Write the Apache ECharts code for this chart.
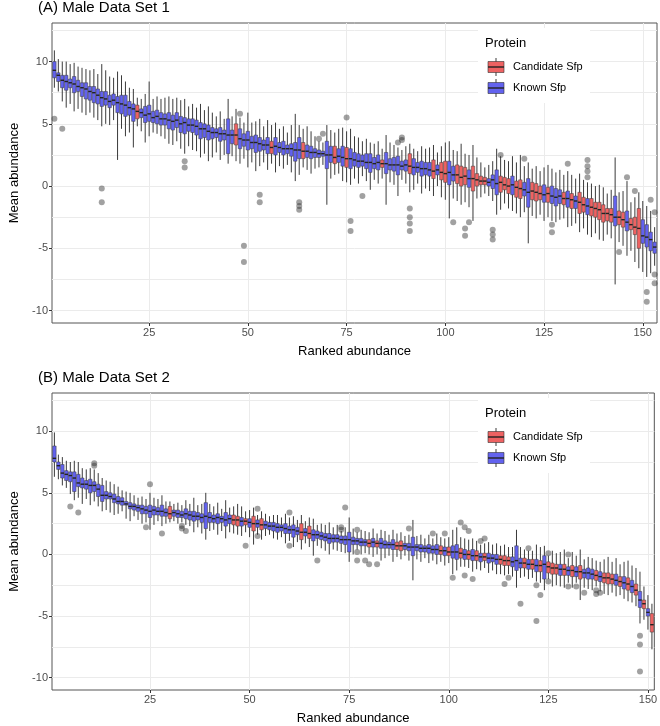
<!DOCTYPE html>
<html>
<head>
<meta charset="utf-8">
<script src="https://cdn.jsdelivr.net/npm/echarts@6/dist/echarts.min.js"></script>
<style>
  html, body { margin: 0; padding: 0; background: #fff; }
  #chart { width: 660px; height: 726px; }
</style>
</head>
<body>
<div id="chart"></div>
<script>
// box stats per rank: [lower whisker, Q1, median, Q3, upper whisker]
var boxesA = [
  [7.9,8.7,9.3,10.0,10.9],[7.6,8.4,8.9,9.1,10.2],[6.8,7.9,8.5,8.9,10.0],[6.3,7.7,8.4,8.9,10.0],[6.6,7.9,8.3,8.6,9.8],
  [6.0,7.5,8.2,8.8,9.9],[6.2,7.6,8.0,8.5,9.6],[5.9,7.2,7.9,8.3,9.5],[5.7,7.0,7.8,8.3,9.4],[5.9,6.9,7.6,8.0,9.3],
  [5.5,6.7,7.5,8.0,9.4],[5.3,6.6,7.3,7.8,9.0],[4.8,6.4,7.1,7.6,9.8],[5.0,6.5,7.0,7.6,9.3],[4.9,6.3,6.8,7.3,8.8],
  [5.3,6.5,6.9,7.4,8.7],[2.1,5.9,6.7,7.2,9.2],[4.6,5.8,6.6,7.3,8.9],[4.0,5.6,6.5,7.3,8.4],[4.3,5.7,6.3,6.8,7.9],
  [3.1,5.2,6.2,6.6,7.8],[4.8,5.4,6.0,6.5,7.1],[4.4,5.5,5.9,6.2,7.0],[3.5,5.1,5.7,6.4,7.4],[4.0,5.2,5.8,6.5,8.4],
  [4.3,5.1,5.5,6.0,7.0],[4.2,5.0,5.6,6.1,7.2],[4.0,4.9,5.4,5.9,7.0],[3.8,4.9,5.4,5.8,7.1],[3.4,4.6,5.3,5.9,7.2],
  [3.3,4.5,5.2,5.7,7.0],[3.6,4.7,5.3,5.9,7.1],[3.0,4.3,5.0,5.6,6.9],[2.6,4.2,5.1,5.5,7.0],[3.2,4.4,4.9,5.4,6.4],
  [2.9,4.3,4.9,5.4,6.6],[2.8,4.1,4.8,5.3,6.3],[2.3,3.8,4.6,5.1,6.6],[2.6,3.9,4.6,5.0,6.1],[2.0,3.7,4.4,4.9,6.4],
  [2.3,3.8,4.3,4.7,5.9],[2.7,3.9,4.3,4.6,5.6],[2.1,3.6,4.2,4.7,6.0],[2.5,3.7,4.2,4.5,5.4],[1.8,2.6,4.1,5.4,7.0],
  [2.4,3.4,4.1,4.5,5.6],[2.0,3.3,4.1,5.0,6.2],[1.8,3.0,3.8,4.6,5.5],[2.2,3.2,3.7,4.2,5.1],[1.5,2.9,3.7,4.4,5.9],
  [1.9,3.0,3.5,4.0,5.1],[1.2,2.7,3.5,4.1,5.2],[1.6,2.8,3.4,3.9,5.4],[1.9,2.9,3.3,3.7,4.8],[1.3,2.6,3.3,3.9,5.3],
  [1.8,2.6,3.1,3.6,4.9],[1.1,2.5,3.2,3.9,5.1],[1.6,2.7,3.1,3.5,4.6],[1.4,2.5,3.0,3.6,4.8],[1.7,2.6,3.0,3.3,4.3],
  [1.1,2.4,3.0,3.4,4.9],[0.4,2.0,2.9,3.5,5.8],[0.9,2.2,2.9,3.9,4.9],[1.5,2.2,2.8,3.5,4.6],[1.3,2.3,2.8,3.3,4.8],
  [1.0,2.2,2.7,3.2,4.4],[1.4,2.3,2.7,3.0,4.0],[1.5,2.3,2.6,2.9,3.6],[1.7,2.4,2.6,2.8,3.5],[-1.5,1.4,2.5,3.6,4.9],
  [0.6,1.9,2.5,3.2,4.5],[0.9,1.8,2.3,3.2,4.3],[1.0,1.9,2.4,3.0,4.6],[0.4,1.6,2.3,3.2,4.7],[0.3,1.5,2.2,3.1,4.4],
  [0.1,1.4,2.2,3.0,4.6],[0.6,1.6,2.1,2.7,4.0],[0.2,1.5,2.0,2.6,3.9],[0.8,1.6,2.0,2.5,3.6],[0.4,1.4,1.9,2.6,3.8],
  [-0.3,1.1,1.9,2.6,3.5],[0.5,1.4,1.8,2.3,3.4],[0.2,1.3,1.9,2.5,3.6],[0.6,1.5,1.8,2.1,3.0],[-1.5,1.0,1.8,2.7,4.1],
  [0.3,1.3,1.7,2.2,3.5],[0.1,1.2,1.7,2.3,3.3],[-0.8,0.9,1.7,2.4,3.1],[0.5,1.3,1.6,2.0,2.9],[0.2,1.2,1.7,2.1,3.2],
  [-0.5,1.0,1.6,2.6,3.4],[-0.3,0.9,1.5,2.2,3.0],[0.2,1.1,1.5,1.9,2.8],[-0.6,0.8,1.4,2.0,3.2],[-0.2,0.9,1.4,1.9,3.0],
  [-0.4,0.8,1.3,1.9,3.1],[-0.8,0.6,1.2,2.1,3.3],[0.0,0.9,1.3,1.7,2.7],[-0.9,0.5,1.1,1.9,3.2],[-1.1,0.3,1.0,2.0,3.5],
  [-2.6,0.1,1.1,2.0,3.6],[-1.0,0.4,0.9,1.6,2.9],[-1.2,0.2,0.9,1.7,2.8],[-1.5,0.0,0.7,1.6,3.4],[-1.3,0.1,0.8,1.5,2.6],
  [-1.7,-0.1,0.6,1.3,2.5],[-2.8,-0.4,0.6,1.6,3.3],[-1.0,0.0,0.5,1.0,2.3],[-0.9,0.1,0.4,0.8,1.9],[-0.6,0.1,0.4,0.7,1.5],
  [-0.8,0.0,0.3,0.6,1.7],[-1.2,-0.2,0.5,0.9,2.0],[-2.3,-0.7,0.2,1.3,3.0],[-1.9,-0.5,0.3,0.8,2.4],[-1.4,-0.3,0.1,0.7,2.1],
  [-1.8,-0.6,0.0,0.6,2.0],[-2.0,-0.7,0.1,0.8,2.4],[-2.2,-0.9,-0.1,0.4,1.9],[-2.5,-1.0,-0.2,0.5,2.5],[-2.1,-0.8,-0.3,0.3,1.6],
  [-4.6,-1.7,-0.5,0.6,1.9],[-2.4,-1.1,-0.4,0.3,1.4],[-2.6,-1.2,-0.5,0.2,1.6],[-2.3,-1.1,-0.6,0.0,1.2],[-2.8,-1.3,-0.7,0.1,1.5],
  [-2.5,-1.3,-0.6,-0.1,1.7],[-2.8,-1.4,-0.8,0.0,1.4],[-2.9,-1.6,-0.9,-0.2,1.1],[-2.7,-1.4,-0.8,-0.3,1.3],[-2.6,-1.5,-1.0,-0.5,0.9],
  [-3.3,-1.7,-1.0,-0.4,1.2],[-3.2,-1.8,-1.1,-0.6,0.9],[-3.0,-1.8,-1.2,-0.8,0.6],[-3.7,-2.2,-1.3,-0.5,1.0],[-3.4,-2.1,-1.5,-0.9,0.5],
  [-3.9,-2.3,-1.6,-1.0,0.3],[-4.1,-2.4,-1.7,-1.0,0.2],[-3.8,-2.5,-1.8,-1.3,0.0],[-4.3,-2.7,-1.9,-1.3,0.1],[-4.4,-2.9,-2.2,-1.5,-0.1],
  [-3.9,-2.8,-2.2,-1.8,-0.6],[-4.2,-2.9,-2.3,-1.8,-0.3],[-7.9,-3.2,-2.5,-0.8,2.3],[-4.5,-3.1,-2.5,-2.0,-0.5],[-4.8,-3.3,-2.7,-2.1,-0.4],
  [-5.6,-3.6,-2.9,-2.0,0.4],[-5.2,-3.5,-3.1,-2.6,-1.3],[-6.1,-3.9,-3.3,-2.5,-0.9],[-6.6,-5.0,-3.4,-1.8,-0.5],[-6.9,-4.6,-4.0,-2.7,-1.2],
  [-7.3,-4.9,-4.1,-3.1,-1.6],[-7.0,-5.2,-4.3,-3.7,-2.0],[-6.4,-5.4,-4.9,-4.5,-3.3]
];
var candidateA = [22,47,56,64,72,75,84,91,97,99,100,103,104,105,107,108,109,110,114,115,116,118,119,
  122,123,124,126,130,132,134,135,137,138,139,140,141,142,144,145,147,148,149];
var outliersA = [
  [1,5.4],[3,4.6],[13,-0.2],[13,-1.3],[34,2.0],[34,1.5],[48,5.8],[49,-4.8],[49,-6.1],[53,-0.7],[53,-1.3],
  [63,-1.3],[63,-1.6],[63,-1.9],[68,3.8],[69,4.2],[75,5.5],[76,-2.8],[76,-3.6],[79,-0.8],[88,3.5],[89,3.7],[89,3.9],
  [91,-1.8],[91,-2.5],[91,-3.0],[91,-3.6],[102,-2.9],[105,-3.4],[105,-4.0],[106,-2.9],[112,-3.5],[112,-3.9],[112,-4.3],
  [114,2.5],[120,2.2],[127,-3.1],[127,-3.7],[131,1.8],[136,2.1],[136,1.6],[136,1.2],[136,0.7],[144,-5.3],[146,0.7],
  [148,-0.4],[151,-8.5],[151,-9.3],[152,-1.1],[153,-2.1],[153,-7.1],[153,-7.8]
];

var boxesB = [
  [6.3,7.5,7.8,8.8,9.9],[6.1,6.9,7.2,7.5,8.1],[5.6,6.2,6.6,7.3,7.9],[5.4,6.0,6.5,6.8,7.6],[4.9,5.9,6.4,6.7,7.5],
  [4.4,5.1,6.2,6.7,7.6],[4.6,5.5,5.8,6.5,7.5],[4.1,5.4,5.7,6.2,7.0],[4.5,5.3,5.7,6.0,6.9],[4.0,5.0,5.6,6.1,7.0],
  [4.3,5.1,5.6,5.9,6.9],[3.9,4.7,5.3,5.7,6.6],[3.5,4.3,4.8,5.6,6.2],[3.6,4.5,4.8,5.1,6.0],[3.4,4.5,4.7,5.0,5.9],
  [3.2,4.2,4.5,4.9,5.7],[3.3,4.1,4.3,4.7,5.5],[3.5,4.0,4.3,4.6,5.2],[2.9,4.0,4.1,4.3,5.1],[2.7,3.7,3.9,4.2,5.0],
  [3.1,3.6,3.9,4.1,4.8],[2.8,3.5,3.8,4.0,4.6],[2.5,3.3,3.7,4.0,4.7],[2.6,3.3,3.6,3.9,4.5],[2.0,3.0,3.5,4.0,5.0],
  [2.4,3.2,3.6,3.9,4.6],[2.7,3.2,3.5,3.8,4.5],[2.3,3.1,3.5,4.0,4.8],[2.5,3.1,3.4,3.7,4.3],[2.6,2.9,3.3,3.9,4.3],
  [2.7,3.1,3.4,3.6,4.1],[2.5,3.0,3.3,3.6,4.2],[2.6,3.0,3.2,3.5,4.0],[2.4,2.9,3.3,3.7,4.4],[2.3,2.8,3.2,3.5,4.1],
  [1.8,2.7,3.1,3.5,4.6],[2.2,2.8,3.1,3.4,4.0],[1.7,2.6,3.0,3.3,4.1],[1.2,2.1,3.1,4.2,5.0],[1.9,2.6,3.0,3.4,4.1],
  [2.0,2.6,2.9,3.2,3.9],[1.6,2.5,3.0,3.3,4.2],[1.9,2.6,2.9,3.1,3.7],[1.3,2.3,2.8,3.4,4.4],[1.8,2.5,2.9,3.2,3.8],
  [1.7,2.4,2.8,3.2,3.9],[1.6,2.3,2.8,3.1,4.1],[1.5,2.3,2.7,3.0,3.9],[1.8,2.4,2.7,2.9,3.5],[1.4,2.2,2.6,2.9,3.6],
  [0.8,1.9,2.5,3.1,3.8],[1.6,2.2,2.5,2.8,3.2],[1.2,2.0,2.4,2.9,3.5],[1.5,2.1,2.4,2.7,3.3],[1.6,2.0,2.3,2.6,3.1],
  [1.3,1.9,2.3,2.6,3.2],[1.2,1.8,2.2,2.5,3.2],[1.4,1.9,2.2,2.4,3.0],[0.9,1.7,2.1,2.5,3.3],[1.1,1.7,2.0,2.3,3.0],
  [0.6,1.4,2.0,2.4,3.1],[1.0,1.6,1.9,2.2,2.8],[0.4,1.2,1.8,2.5,3.2],[0.9,1.5,1.8,2.1,2.7],[0.6,1.3,1.7,2.3,3.0],
  [-0.1,1.1,1.6,2.0,2.9],[0.7,1.3,1.6,1.9,2.4],[0.5,1.2,1.5,1.8,2.5],[0.3,1.1,1.4,1.7,2.4],[0.0,0.9,1.3,1.7,2.6],
  [0.4,1.0,1.3,1.6,2.2],[0.3,1.0,1.3,1.6,2.4],[0.2,0.9,1.2,1.5,1.9],[0.1,0.8,1.2,1.5,2.2],[-0.6,0.2,1.2,1.8,3.0],
  [0.0,0.8,1.1,1.4,2.1],[0.4,0.8,1.1,1.3,1.8],[0.0,0.7,1.0,1.3,2.0],[0.1,0.7,1.0,1.2,1.9],[0.0,0.6,0.9,1.2,1.8],
  [-0.2,0.6,1.0,1.3,2.1],[0.0,0.6,0.9,1.1,1.7],[-0.5,0.5,0.9,1.3,2.0],[-0.3,0.5,0.8,1.1,1.9],[-0.1,0.5,0.8,1.0,1.6],
  [-0.6,0.4,0.8,1.2,2.0],[-0.2,0.4,0.7,1.0,1.7],[-0.4,0.3,0.7,1.1,1.8],[-0.1,0.4,0.7,0.9,1.5],[-0.5,0.3,0.6,0.9,1.6],
  [-2.1,-0.1,0.6,1.4,2.8],[-0.4,0.3,0.6,0.8,1.5],[-0.6,0.2,0.5,0.8,1.6],[-0.3,0.2,0.5,0.7,1.3],[-0.7,0.1,0.5,0.8,1.6],
  [-0.5,0.1,0.4,0.7,1.3],[-0.8,0.0,0.4,0.8,1.7],[-0.6,0.0,0.3,0.7,1.4],[-0.9,-0.1,0.3,0.6,1.3],[-0.7,-0.1,0.2,0.6,1.4],
  [-1.6,-0.3,0.2,0.7,2.0],[-1.3,-0.4,0.2,0.8,2.2],[-1.0,-0.3,0.1,0.5,1.4],[-1.0,-0.4,0.0,0.4,1.3],[-1.1,-0.4,0.0,0.3,1.2],
  [-1.4,-0.5,-0.1,0.4,1.3],[-1.2,-0.5,-0.1,0.3,1.1],[-1.3,-0.6,-0.2,0.1,0.8],[-1.1,-0.5,-0.2,0.1,0.9],[-1.5,-0.7,-0.3,0.1,1.0],
  [-1.3,-0.6,-0.3,0.0,0.8],[-1.6,-0.8,-0.4,0.0,0.9],[-1.6,-0.8,-0.4,-0.1,0.7],[-1.7,-0.9,-0.5,-0.1,0.8],[-1.6,-0.9,-0.5,-0.2,0.6],
  [-1.8,-1.0,-0.6,-0.2,0.6],[-2.7,-1.3,-0.5,0.7,2.0],[-1.9,-1.1,-0.7,-0.3,0.6],[-1.8,-1.1,-0.7,-0.3,0.4],[-2.0,-1.2,-0.8,-0.4,0.3],
  [-1.9,-1.2,-0.8,-0.4,0.3],[-2.2,-1.4,-0.9,-0.4,0.8],[-2.3,-1.4,-0.9,-0.5,0.6],[-2.9,-2.0,-0.8,-0.1,0.7],[-2.0,-1.5,-1.0,-0.6,-0.1],
  [-2.6,-1.6,-1.1,-0.7,0.3],[-2.5,-1.6,-1.1,-0.8,0.1],[-2.6,-1.7,-1.2,-0.8,0.2],[-2.7,-1.7,-1.2,-0.8,0.4],[-2.3,-1.7,-1.3,-1.0,-0.3],
  [-2.7,-1.8,-1.3,-0.9,0.2],[-2.3,-1.8,-1.4,-1.0,-0.1],[-3.7,-2.0,-1.4,-0.9,0.4],[-2.7,-1.9,-1.5,-1.2,-0.4],[-2.8,-2.0,-1.5,-1.1,-0.2],
  [-2.9,-2.0,-1.6,-1.2,-0.3],[-2.6,-2.1,-1.7,-1.3,-0.5],[-3.0,-2.2,-1.8,-1.4,-0.6],[-3.2,-2.3,-1.9,-1.5,-0.4],[-3.3,-2.4,-1.9,-1.5,-0.2],
  [-3.1,-2.4,-2.0,-1.6,-0.6],[-3.4,-2.5,-2.1,-1.6,-0.3],[-3.3,-2.6,-2.2,-1.8,-0.8],[-3.6,-2.8,-2.3,-1.8,-0.6],[-3.8,-2.9,-2.4,-1.9,-0.5],
  [-3.9,-3.1,-2.6,-2.1,-0.9],[-4.2,-3.3,-2.9,-2.4,-1.1],[-5.6,-4.3,-3.7,-3.0,-1.4],[-5.3,-4.4,-4.0,-3.7,-2.6],[-6.1,-5.0,-4.7,-4.4,-3.3],
  [-7.7,-6.3,-5.7,-4.8,-4.0]
];
var candidateB = [30,46,47,49,51,53,63,65,80,82,87,88,98,100,103,105,107,109,113,114,115,119,121,123,
  125,126,127,129,131,133,137,139,140,141,143,145,147,149,151];
var outliersB = [
  [5,3.9],[7,3.4],[11,7.4],[11,7.2],[24,2.2],[25,5.7],[28,1.7],[33,2.3],[33,2.1],[34,1.9],[49,0.7],[52,3.7],[52,1.5],
  [60,3.4],[60,0.7],[67,-0.5],[73,2.2],[73,2.0],[74,3.8],[77,2.0],[77,0.2],[77,-0.5],[79,-0.5],[80,-0.8],[82,-0.8],
  [90,2.1],[96,1.7],[99,1.7],[101,-1.9],[103,2.6],[104,2.2],[104,-1.7],[105,1.9],[106,-2.0],[108,1.1],[109,1.3],
  [114,-2.4],[115,-1.9],[118,-4.0],[120,0.5],[122,-2.5],[122,-5.4],[123,-3.3],[125,0.1],[125,-2.2],[130,0.0],[130,-2.6],
  [132,-2.6],[134,-3.1],[137,-2.9],[137,-3.2],[138,-3.1],[148,-6.6],[148,-7.3],[148,-9.5]
];

var xTicks = [25, 50, 75, 100, 125, 150];
var yTicks = [-10, -5, 0, 5, 10];
var yGridLines = [-10, -7.5, -5, -2.5, 0, 2.5, 5, 7.5, 10, 12.5];
var titles = ['(A) Male Data Set 1', '(B) Male Data Set 2'];
var legendNames = ['Candidate Sfp', 'Known Sfp'];

var RED = '#EE6262', BLUE = '#6262EE';
var FONT = 'Liberation Sans, Arial, sans-serif';

function toItems(boxes, cands) {
  return boxes.map(function (b, i) {
    var rank = i + 1;
    return [rank, b[0], b[1], b[2], b[3], b[4], cands.indexOf(rank) >= 0 ? 1 : 0];
  });
}

function renderBox(params, api) {
  var x = api.value(0);
  var lo = api.coord([x, api.value(1)]);
  var q1 = api.coord([x, api.value(2)]);
  var md = api.coord([x, api.value(3)]);
  var q3 = api.coord([x, api.value(4)]);
  var hi = api.coord([x, api.value(5)]);
  var w = api.size([1, 0])[0] * 0.88;
  var fill = api.value(6) ? RED : BLUE;
  return {
    type: 'group',
    children: [
      { type: 'line', shape: { x1: lo[0], y1: lo[1], x2: hi[0], y2: hi[1] },
        style: { stroke: '#3a3a3a', lineWidth: 1 } },
      { type: 'rect', shape: { x: q3[0] - w / 2, y: q3[1], width: w, height: q1[1] - q3[1] },
        style: { fill: fill, stroke: '#3a3a3a', lineWidth: 0.5 } },
      { type: 'line', shape: { x1: md[0] - w / 2, y1: md[1], x2: md[0] + w / 2, y2: md[1] },
        style: { stroke: '#222', lineWidth: 1.4 } }
    ]
  };
}

var grids = [
  { left: 40, top: 23, width: 617, height: 300 },
  { left: 40, top: 393, width: 617, height: 300 }
];
var counts = [boxesA.length, boxesB.length];

var xAxes = [], yAxes = [], series = [];
[0, 1].forEach(function (g) {
  xAxes.push({
    type: 'value', gridIndex: g, min: 0.4, max: counts[g] + 0.6, position: 'bottom',
    axisLine: { show: false, onZero: false },
    axisTick: { show: true, length: 3, customValues: xTicks, lineStyle: { color: '#333' } },
    axisLabel: { customValues: xTicks, color: '#4d4d4d', fontSize: 11, fontFamily: FONT, margin: 4 },
    splitLine: { show: true, lineStyle: { color: '#EBEBEB', width: 1 } },
    name: 'Ranked abundance', nameLocation: 'middle', nameGap: 22,
    nameTextStyle: { color: '#000', fontSize: 13, fontFamily: FONT }
  });
  yAxes.push({
    type: 'value', gridIndex: g, min: -11, max: 13.1, position: 'left',
    axisLine: { show: false, onZero: false },
    axisTick: { show: true, length: 3, customValues: yTicks, lineStyle: { color: '#333' } },
    axisLabel: { customValues: yTicks, color: '#4d4d4d', fontSize: 11, fontFamily: FONT, margin: 4 },
    splitLine: { show: false },
    name: 'Mean abundance', nameLocation: 'middle', nameGap: 31,
    nameTextStyle: { color: '#000', fontSize: 13, fontFamily: FONT }
  });
  // helper axis only for the major + minor horizontal grid lines
  yAxes.push({
    type: 'value', gridIndex: g, min: -11, max: 13.1, position: 'left',
    axisLine: { show: false, onZero: false },
    axisTick: { show: false, customValues: yGridLines },
    axisLabel: { show: false },
    splitLine: { show: true, lineStyle: { color: '#EBEBEB', width: 1 } }
  });
});

var boxSets = [[boxesA, candidateA, outliersA], [boxesB, candidateB, outliersB]];
boxSets.forEach(function (set, g) {
  series.push({
    type: 'custom', xAxisIndex: g, yAxisIndex: g * 2,
    renderItem: renderBox, clip: true,
    encode: { x: 0, y: [1, 2, 3, 4, 5] },
    data: toItems(set[0], set[1]), z: 3
  });
  series.push({
    type: 'scatter', xAxisIndex: g, yAxisIndex: g * 2,
    symbolSize: 6, data: set[2], z: 4,
    itemStyle: { color: 'rgba(40,40,40,0.55)' }
  });
});

function legendBlock(top) {
  var els = [
    { type: 'rect', shape: { x: 478, y: top + 5, width: 112, height: 75 }, style: { fill: '#fff' }, z: 20 },
    { type: 'text', style: { text: 'Protein', x: 485, y: top + 20, font: '13px ' + FONT, fill: '#000', verticalAlign: 'middle' }, z: 21 }
  ];
  [[top + 44, RED, legendNames[0]], [top + 65, BLUE, legendNames[1]]].forEach(function (k) {
    var cy = k[0];
    els.push({ type: 'line', shape: { x1: 496, y1: cy - 9, x2: 496, y2: cy + 9 }, style: { stroke: '#3a3a3a', lineWidth: 1 }, z: 21 });
    els.push({ type: 'rect', shape: { x: 488, y: cy - 5.5, width: 16, height: 11 }, style: { fill: k[1], stroke: '#333', lineWidth: 0.6 }, z: 22 });
    els.push({ type: 'line', shape: { x1: 488, y1: cy, x2: 504, y2: cy }, style: { stroke: '#222', lineWidth: 1.4 }, z: 23 });
    els.push({ type: 'text', style: { text: k[2], x: 513, y: cy, font: '11px ' + FONT, fill: '#000', verticalAlign: 'middle' }, z: 21 });
  });
  return els;
}

var chart = echarts.init(document.getElementById('chart'), null, { renderer: 'canvas' });
var option = {
  backgroundColor: '#fff',
  animation: false,
  title: [
    { text: titles[0], left: 38, top: 0, padding: 0, textStyle: { fontSize: 15, fontWeight: 'normal', color: '#000', fontFamily: FONT } },
    { text: titles[1], left: 38, top: 370, padding: 0, textStyle: { fontSize: 15, fontWeight: 'normal', color: '#000', fontFamily: FONT } }
  ],
  grid: grids.map(function (g) {
    return { left: g.left, top: g.top, width: g.width, height: g.height, show: true,
      borderColor: '#555', borderWidth: 1, backgroundColor: 'transparent', containLabel: false };
  }),
  xAxis: xAxes,
  yAxis: yAxes,
  series: series,
  graphic: legendBlock(23).concat(legendBlock(393))
};
chart.setOption(option);
</script>
</body>
</html>
